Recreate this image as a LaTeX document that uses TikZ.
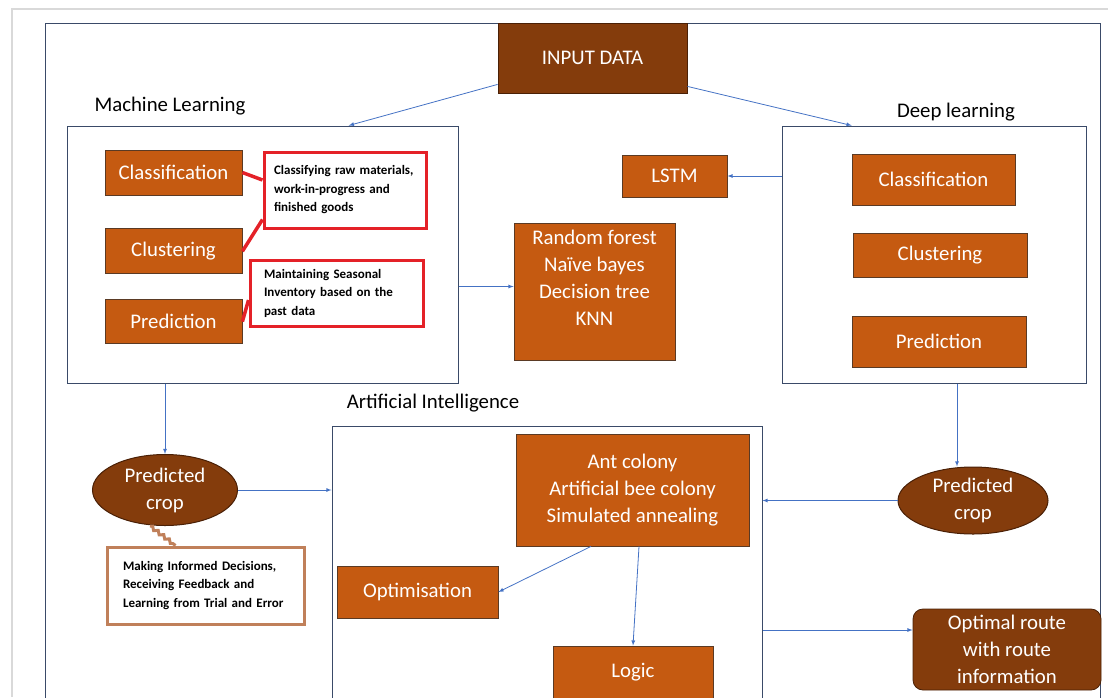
\documentclass[tikz,border=0pt]{standalone}
\usepackage{fontspec}
\setmainfont{Carlito}
\usetikzlibrary{positioning, shapes, calc, decorations.pathmorphing}
\definecolor{boxorange}{HTML}{C55A11}
\definecolor{darkbrown}{HTML}{843C0C}
\definecolor{boxedge}{HTML}{5A3A24}
\definecolor{ellipseedge}{HTML}{4A2006}
\definecolor{frameblue}{HTML}{3A4A68}
\definecolor{arrowblue}{HTML}{4472C4}
\definecolor{notered}{HTML}{E42128}
\definecolor{notebrown}{HTML}{C0805A}
\definecolor{pageframe}{HTML}{D9D9D9}

\begin{document}
\begin{tikzpicture}[x=1pt, y=-1pt,
orangebox/.style={rectangle,
  fill=boxorange,
  draw=boxedge,
  line width=0.8pt,
  text=white,
  align=center,
  font=\fontsize{20.8}{27}\selectfont
},
darkbox/.style={orangebox,
  fill=darkbrown,
  draw=ellipseedge
},
cropnode/.style={ellipse,
  fill=darkbrown,
  draw=ellipseedge,
  line width=1pt,
  text=white,
  align=center,
  inner sep=0pt,
  font=\fontsize{20.8}{27}\selectfont
},
container/.style={rectangle,
  draw=frameblue,
  line width=1pt
},
title/.style={text=black,
  font=\fontsize{20.8}{24}\selectfont
},
rednote/.style={rectangle,
  draw=notered,
  line width=3pt,
  fill=white,
  align=left,
  font=\fontsize{13}{18.5}\selectfont\bfseries
},
brownnote/.style={rednote,
  draw=notebrown
},
arr/.style={->, draw=arrowblue, line width=0.8pt},
redlink/.style={draw=notered, line width=3.5pt},
brownlink/.style={draw=notebrown, line width=3pt, decorate,
  decoration={snake, amplitude=1.5pt, segment length=7pt}},
>=latex
]
\useasboundingbox (0,0) rectangle (1108,697);

\draw[pageframe, line width=1.2pt] (12,697) -- (12,9) -- (1108,9);

\node[container, minimum width=1055pt, minimum height=697pt] (outer) at (572.5,371.5) {};
\node[darkbox, minimum width=189pt, minimum height=70pt] (input) at (592.5,58)
    {INPUT DATA};

\node[container, minimum width=391pt, minimum height=257pt] (mlbox) at (262.5,254.5) {};
\node[title] (mllabel) at (170,106)
    {Machine Learning};
\node[orangebox, minimum width=137pt, minimum height=45pt] (mlcls) at (173.5,172.5)
    {Classification};
\node[orangebox, minimum width=137pt, minimum height=45pt, below=33pt of mlcls] (mlclu)
    {Clustering};
\node[orangebox, minimum width=137pt, minimum height=44pt, below=25pt of mlclu] (mlpre)
    {Prediction};
\node[rednote, minimum width=162pt, minimum height=76pt, text width=142pt] (note1) at (345,190)
    {Classifying raw materials,\\ work-in-progress and\\ finished goods};
\node[rednote, minimum width=173pt, minimum height=66pt, text width=145pt] (note2) at (336.5,293)
    {Maintaining Seasonal\\ Inventory based on the\\ past data};

\node[orangebox, minimum width=161pt, minimum height=137pt] (rf) at (594.5,291.5)
    {Random forest\\ Naïve bayes\\ Decision tree\\ KNN\\ \mbox{}};
\node[orangebox, minimum width=105pt, minimum height=42pt] (lstm) at (674.5,176)
    {LSTM};

\node[container, minimum width=304pt, minimum height=257pt] (dlbox) at (934,254.5) {};
\node[title] (dllabel) at (956,112)
    {Deep learning};
\node[orangebox, minimum width=163pt, minimum height=51pt] (dlcls) at (933.5,179.5)
    {Classification};
\node[orangebox, minimum width=174pt, minimum height=44pt] (dlclu) at (940,255)
    {Clustering};
\node[orangebox, minimum width=174pt, minimum height=51pt] (dlpre) at (939,341.5)
    {Prediction};

\node[cropnode, minimum width=145pt, minimum height=71pt] (pc1) at (165,490)
    {Predicted\\ crop};
\node[brownnote, minimum width=197pt, minimum height=77pt, text width=165pt] (note3) at (205.5,585.5)
    {Making Informed Decisions,\\ Receiving Feedback and\\ Learning from Trial and Error};

\node[container, minimum width=430pt, minimum height=294pt] (aibox) at (547,573) {};
\node[title] (ailabel) at (433,403)
    {Artificial Intelligence};
\node[orangebox, minimum width=233pt, minimum height=112pt] (algo) at (632.5,490)
    {Ant colony\\ Artificial bee colony\\ Simulated annealing};
\node[orangebox, minimum width=161pt, minimum height=52pt] (opt) at (417.5,592)
    {Optimisation};
\node[orangebox, minimum width=160pt, minimum height=52pt] (logic) at (633,672)
    {Logic};

\node[cropnode, minimum width=150pt, minimum height=67pt] (pc2) at (973,500.5)
    {Predicted\\ crop};
\node[darkbox, rounded corners=10pt, minimum width=188pt, minimum height=81pt] (route) at (1007,649.5)
    {Optimal route\\ with route\\ information};

\draw[arr] ([yshift=9pt]input.south west) -- ($(mlbox.north west)!0.72!(mlbox.north east)$);
\draw[arr] ([yshift=7pt]input.south east) -- ($(dlbox.north west)!0.23!(dlbox.north east)$);
\draw[arr] ($(mlbox.east |- rf.west)+(0,-5)$) -- ($(rf.west)+(0,-5)$);
\draw[arr] (dlbox.west |- lstm.east) -- (lstm.east);
\draw[arr] (mlbox.south -| pc1.north) -- (pc1.north);
\draw[arr] (pc1.east) -- (pc1.east -| aibox.west);
\draw[arr] ($(dlbox.south)+(23,0)$) -- ($(pc2.north)+(-16,0)$);
\draw[arr] (pc2.west) -- (pc2.west -| aibox.east);
\draw[arr] ($(algo.south)+(-41.5,0)$) -- (opt.east);
\draw[arr] ($(algo.south)+(6.5,0)$) -- (logic.north);
\draw[arr] ($(aibox.east |- route.west)+(0,-19.5)$) -- ($(route.west)+(0,-19.5)$);

\draw[redlink] (mlcls.east) -- ($(note1.west)+(0,-10)$);
\draw[redlink] (mlclu.east) -- ($(note1.south west)+(0,-10)$);
\draw[redlink] (mlpre.east) -- ($(note2.west)+(0,7)$);
\draw[brownlink] ($(pc1.south)+(-15,0)$) -- ($(note3.north)+(-30,0)$);
\end{tikzpicture}
\end{document}
